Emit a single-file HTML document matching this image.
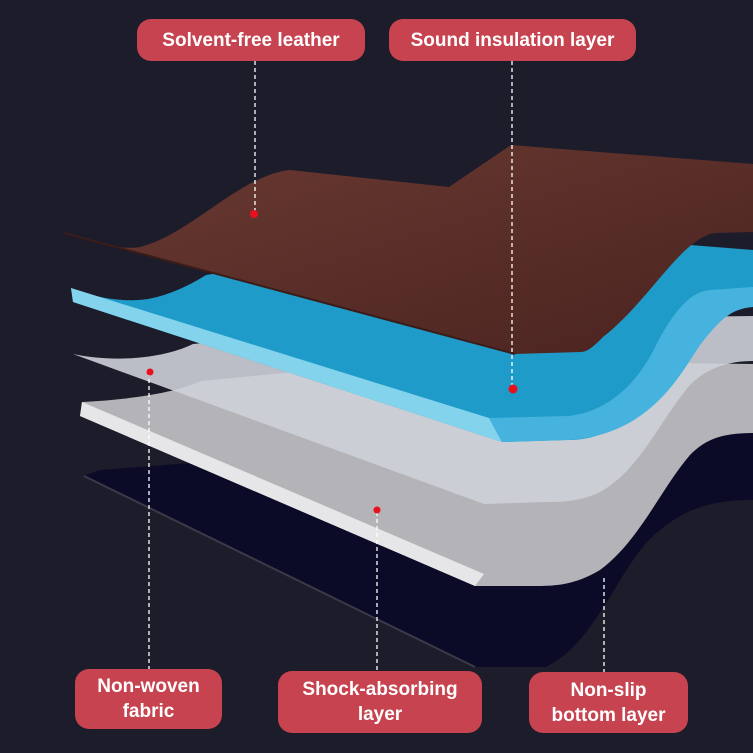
<!DOCTYPE html>
<html><head><style>
body{margin:0;width:753px;height:753px;background:#1d1c2a;position:relative;overflow:hidden;font-family:"Liberation Sans",sans-serif}
.p{position:absolute;background:#c6434f;color:#fff;font-weight:bold;font-size:19px;border-radius:14px;text-align:center;display:flex;align-items:center;justify-content:center;line-height:25px}
</style></head><body>
<svg width="753" height="753" style="position:absolute;left:0;top:0">
<defs>
<linearGradient id="lg" x1="0" y1="0" x2="1" y2="1"><stop offset="0" stop-color="#6b3a33"/><stop offset="1" stop-color="#4a231f"/></linearGradient>
</defs>
<!-- navy -->
<path d="M84,476 L475,667 L546,667 C600,640 620,560 660,530 C690,505 720,500 753,500 L753,420 L100,470 Z" fill="#0b0b28"/>
<path d="M84,476 L475,667" stroke="#3a3a48" stroke-width="2"/>
<!-- gray shock -->
<path d="M82,402 C120,400 170,395 201,381 L420,360 L753,364 L753,433 C720,433 705,440 690,455 C660,490 640,540 600,570 C575,585 555,586 537,586 L475,586 L80,416 Z" fill="#b4b4b8"/>
<path d="M82,402 L484,574 L475,586 L80,416 Z" fill="#e6e6e8"/>
<!-- white nonwoven -->
<path d="M73,354 C110,362 160,360 193,344 L450,320 L753,316 L753,361 C725,361 705,370 690,385 C660,420 640,470 600,492 C580,502 560,502 546,502 L484,504 Z" fill="#cdd0d8" opacity="0.9"/>
<!-- blue -->
<path d="M71,288 C100,300 130,302 148,299 C170,295 190,285 206,275 L500,230 L753,250 L753,307 C735,307 725,310 715,320 C700,335 690,350 670,375 C640,415 610,440 568,440 L502,442 L73,302 Z" fill="#1f9bc9"/>
<path d="M71,288 L489,418 L502,442 L73,302 Z" fill="#84d3ec"/>
<path d="M489,418 L568,416 C610,412 640,380 657,343 C675,310 690,292 710,290 L753,287 L753,307 C730,309 720,320 700,345 C680,375 650,435 568,440 L502,442 Z" fill="#45b3dd"/>
<!-- leather -->
<path d="M64,233 C100,245 125,250 140,247 C190,235 240,175 290,170 L449,187 L511,145 L753,164 L753,232 L714,233 C680,240 650,300 603,337 C595,345 588,352 581,352 L515,354 Z" fill="url(#lg)"/>
<path d="M64,233 L515,354" stroke="#3a1c18" stroke-width="2"/>
<g stroke="#fff" stroke-width="1.3" stroke-dasharray="4,3" fill="none">
<line x1="255" y1="61" x2="255" y2="213"/>
<line x1="512" y1="61" x2="512" y2="388"/>
<line x1="149" y1="372" x2="149" y2="669"/>
<line x1="377" y1="512" x2="377" y2="671"/>
<line x1="604" y1="578" x2="604" y2="672"/>
</g>
<g fill="#e8101c">
<circle cx="254" cy="214" r="4"/><circle cx="513" cy="389" r="4.5"/><circle cx="150" cy="372" r="3.5"/><circle cx="377" cy="510" r="3.5"/>
</g>
</svg>
<div class="p" style="left:137px;top:19px;width:228px;height:42px">Solvent-free leather</div>
<div class="p" style="left:389px;top:19px;width:247px;height:42px">Sound insulation layer</div>
<div class="p" style="left:75px;top:669px;width:147px;height:60px">Non-woven<br>fabric</div>
<div class="p" style="left:278px;top:671px;width:204px;height:62px">Shock-absorbing<br>layer</div>
<div class="p" style="left:529px;top:672px;width:159px;height:61px">Non-slip<br>bottom layer</div>
</body></html>
